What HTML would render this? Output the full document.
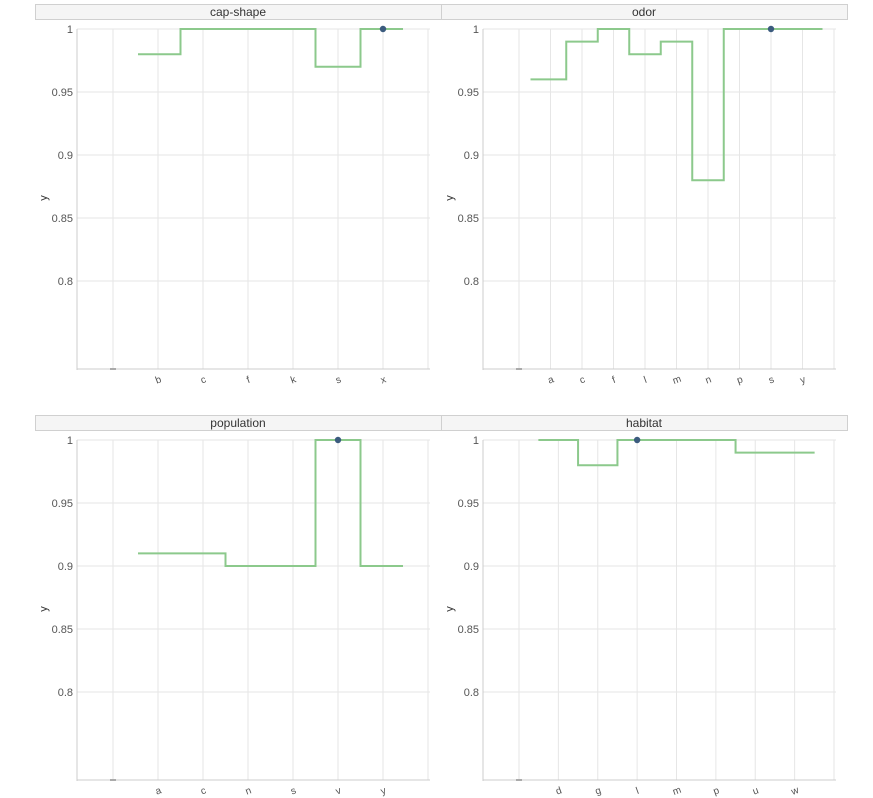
<!DOCTYPE html>
<html><head><meta charset="utf-8">
<style>
html,body{margin:0;padding:0;background:#fff;width:873px;height:798px;overflow:hidden;font-family:"Liberation Sans",sans-serif;}
svg text{font-family:"Liberation Sans",sans-serif;}
</style></head>
<body>
<svg id="chart" width="873" height="798"></svg>
<script>
const capShapeCats = ["b","c","f","k","s","x"];
const capShapeVals = [0.98,1,1,1,0.97,1];
const capShapeBest = "x";
const odorCats = ["a","c","f","l","m","n","p","s","y"];
const odorVals = [0.96,0.99,1,0.98,0.99,0.88,1,1,1];
const odorBest = "s";
const populationCats = ["a","c","n","s","v","y"];
const populationVals = [0.91,0.91,0.90,0.90,1,0.90];
const populationBest = "v";
const habitatCats = ["d","g","l","m","p","u","w"];
const habitatVals = [1,0.98,1,1,1,0.99,0.99];
const habitatBest = "l";
const yTicks = [1,0.95,0.9,0.85,0.8];
const yTickLabels = ["1","0.95","0.9","0.85","0.8"];

const NS="http://www.w3.org/2000/svg";
const svg=document.getElementById('chart');
function mk(tag,attrs,parent){const e=document.createElementNS(NS,tag);for(const k in attrs)e.setAttribute(k,attrs[k]);(parent||svg).appendChild(e);return e;}

function panel(slug,title,cats,vals,best,sx,sw,stripY,L,R,T,B){
  const g=mk('g',{});
  
  
  const strip=mk('rect',{x:sx+0.5,y:stripY+0.5,width:sw,height:15,fill:'#f5f5f5',stroke:'#d0d0d0'},g);
  
  
  const tt=mk('text',{x:sx+sw/2,y:stripY+12,'text-anchor':'middle','font-size':'12',fill:'#333'},g);
  tt.textContent=title;
  
  
  const y=v=>T+(1-v)*1260;
  const first=L+36, last=R-2;
  const band=(last-first)/(cats.length+1);
  const x=i=>first+(i+1)*band;
  yTicks.forEach((v,i)=>{
    const gl=mk('line',{x1:L,x2:R,y1:y(v),y2:y(v),stroke:'#e6e6e6','stroke-width':1},g);
    
    
    const tl=mk('text',{x:L-4,y:y(v)+4,'text-anchor':'end','font-size':'11',fill:'#555'},g);
    tl.textContent=yTickLabels[i];
    
    
  });
  for(let i=-1;i<=cats.length;i++){
    const vl=mk('line',{x1:x(i),x2:x(i),y1:T,y2:B,stroke:'#e6e6e6','stroke-width':1},g);
    
    
  }
  cats.forEach((c,i)=>{
    const t=mk('text',{x:x(i),y:B+14,'text-anchor':'middle','font-size':'10',fill:'#555',transform:`rotate(-20 ${x(i)} ${B+10})`},g);
    t.textContent=c;
    
    
  });
  mk('line',{x1:L,x2:L,y1:T,y2:B+1,stroke:'#ccc'},g);
  mk('line',{x1:L,x2:R,y1:B,y2:B,stroke:'#ccc'},g);
  mk('line',{x1:x(-1)-3,x2:x(-1)+3,y1:B,y2:B,stroke:'#aaa','stroke-width':2},g);
  const ly=(T+B)/2-1;
  const yl=mk('text',{x:L-30,y:ly,'text-anchor':'middle','font-size':'11',fill:'#333',transform:`rotate(-90 ${L-30} ${ly})`},g);
  yl.textContent='y';
  
  
  let d='M'+(x(0)-20)+' '+y(vals[0]);
  for(let i=0;i<vals.length;i++){
    const xe = i<vals.length-1 ? (x(i)+x(i+1))/2 : x(i)+20;
    d+=' H'+xe;
    if(i<vals.length-1) d+=' V'+y(vals[i+1]);
  }
  const p=mk('path',{d:d,fill:'none',stroke:'#8cc98c','stroke-width':2},g);
  
  
  const bi=cats.indexOf(best);
  const c=mk('circle',{cx:x(bi),cy:y(vals[bi]),r:3.2,fill:'#3b5b7e'},g);
  
  
}
panel('cap-shape','cap-shape',capShapeCats,capShapeVals,capShapeBest,35,406,4,77,430,29,369);
panel('odor','odor',odorCats,odorVals,odorBest,441,406,4,483,836,29,369);
panel('population','population',populationCats,populationVals,populationBest,35,406,415,77,430,440,780);
panel('habitat','habitat',habitatCats,habitatVals,habitatBest,441,406,415,483,836,440,780);
</script>
</body></html>
